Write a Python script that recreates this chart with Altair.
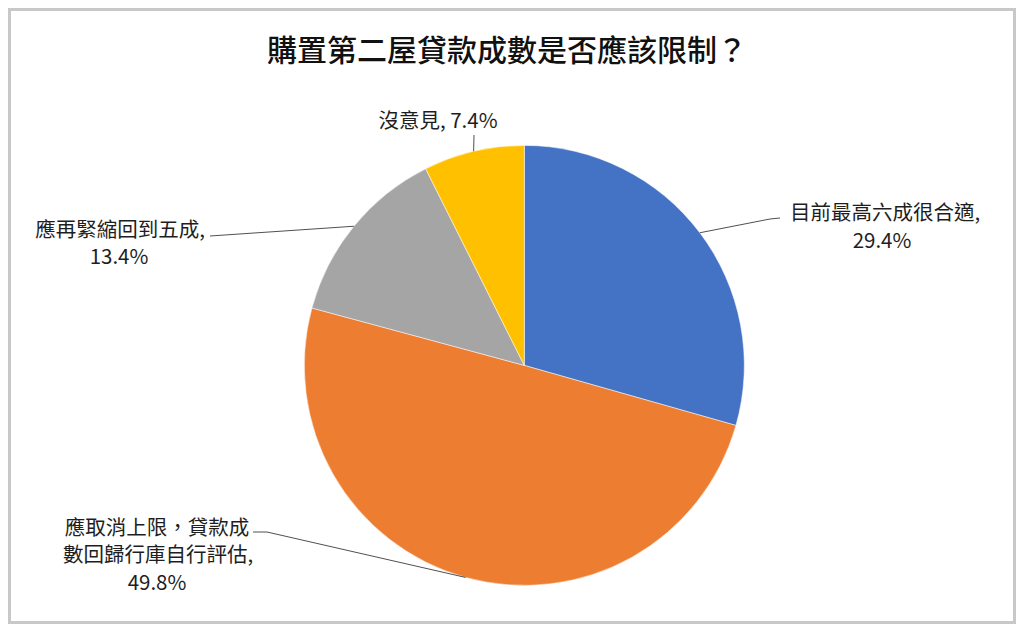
import math
import altair as alt
import pandas as pd

# ---- data ----
categories = ["目前最高六成很合適", "應取消上限，貸款成數回歸行庫自行評估", "應再緊縮回到五成", "沒意見"]
values = [29.4, 49.8, 13.4, 7.4]
colors = ["#4472C4", "#ED7D31", "#A5A5A5", "#FFC000"]
title_text = "購置第二屋貸款成數是否應該限制？"

# label text lines for each slice (value appended from the data)
label_lines = [
    ["目前最高六成很合適,", "{v}%"],
    ["應取消上限，貸款成", "數回歸行庫自行評估,", "{v}%"],
    ["應再緊縮回到五成,", "{v}%"],
    ["沒意見, {v}%"],
]

# ---- layout (chart pixel coordinates) ----
W, H = 1008, 616
CX, CY, R = 516.3, 357.4, 220
FONT = "Noto Sans CJK TC"

label_pos = [
    [(877, 206), (874, 234)],
    [(149, 521), (150, 548), (149, 576)],
    [(112, 223), (111, 249.5)],
    [(430, 114)],
]
leader_start = [
    [(772, 210), (762, 211)],
    [(245, 524), (259, 524)],
    [(202, 228)],
    [(466, 127)],
]

df = pd.DataFrame({"cat": categories, "value": values, "idx": list(range(len(values)))})

trows = []
for i, lines in enumerate(label_lines):
    for line, (x, y) in zip(lines, label_pos[i]):
        trows.append({"txt": line.format(v=values[i]), "px": x, "py": y})
tdf = pd.DataFrame(trows)

total = sum(values)
lrows = []
cum = 0.0
for i, v in enumerate(values):
    mid = (cum + v / 2) / total
    cum += v
    a = 2 * math.pi * mid
    ex, ey = CX + R * math.sin(a), CY - R * math.cos(a)
    pts = leader_start[i] + [(ex, ey)]
    for k, (x, y) in enumerate(pts):
        lrows.append({"seg": i, "ord": k, "px": x, "py": y})
ldf = pd.DataFrame(lrows)

frame_df = pd.DataFrame({"a": [0]})
title_df = pd.DataFrame({"txt": [title_text]})

frame = alt.Chart(frame_df).mark_rect(
    fill="white", stroke="#c8c8c8", strokeWidth=3
).encode(
    x=alt.value(1.5), x2=alt.value(1006.5), y=alt.value(1.5), y2=alt.value(614.5)
)

pie = alt.Chart(df).mark_arc(radius=R, stroke="white", strokeWidth=0.5).encode(
    theta=alt.Theta("value:Q", stack=True),
    color=alt.Color("cat:N", scale=alt.Scale(domain=categories, range=colors), legend=None),
    order=alt.Order("idx:Q", sort="ascending"),
    x=alt.value(CX),
    y=alt.value(CY),
)

lines = alt.Chart(ldf).mark_line(color="#505050", strokeWidth=1).encode(
    x=alt.X("px:Q", scale=None, axis=None),
    y=alt.Y("py:Q", scale=None, axis=None),
    detail="seg:N",
    order="ord:Q",
)

texts = alt.Chart(tdf).mark_text(
    font=FONT, fontSize=20.5, color="#1e1e1e", align="center", baseline="middle"
).encode(
    x=alt.X("px:Q", scale=None, axis=None),
    y=alt.Y("py:Q", scale=None, axis=None),
    text="txt:N",
)

title = alt.Chart(title_df).mark_text(
    font=FONT, fontSize=30, fontWeight=500, color="#111111",
    align="center", baseline="middle"
).encode(
    x=alt.value(499), y=alt.value(44), text="txt:N"
)

chart = alt.layer(frame, pie, lines, texts, title).properties(
    width=W, height=H, padding=0, autosize=alt.AutoSizeParams(type="none"),
    background="white",
).configure_view(strokeWidth=0)

chart.save("out.html", embed_options={"renderer": "svg", "actions": False})
